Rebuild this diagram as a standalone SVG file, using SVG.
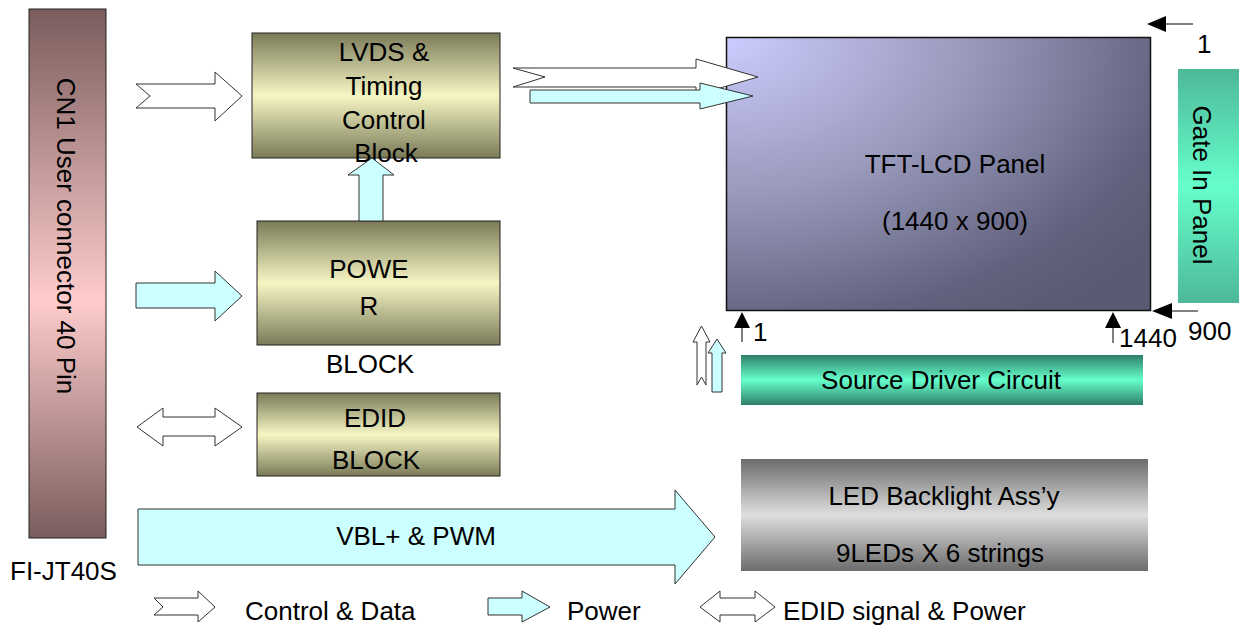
<svg xmlns="http://www.w3.org/2000/svg" width="1241" height="625" viewBox="0 0 1241 625">
<defs>
<linearGradient id="gCN1" x1="0" y1="0" x2="0" y2="1">
<stop offset="0" stop-color="#7a5c5c"/><stop offset="0.55" stop-color="#ffcccc"/><stop offset="1" stop-color="#7a5c5c"/>
</linearGradient>
<linearGradient id="gOlive" x1="0" y1="0" x2="0" y2="1">
<stop offset="0" stop-color="#7a7a58"/><stop offset="0.5" stop-color="#f6f6c4"/><stop offset="1" stop-color="#7a7a58"/>
</linearGradient>
<radialGradient id="gTFT" cx="0" cy="0" r="1.25" fx="0" fy="0">
<stop offset="0" stop-color="#ccccff"/><stop offset="0.45" stop-color="#9a9abd"/><stop offset="0.85" stop-color="#62627e"/><stop offset="1" stop-color="#5a5a74"/>
</radialGradient>
<linearGradient id="gGate" x1="0" y1="0" x2="0" y2="1">
<stop offset="0" stop-color="#4db899"/><stop offset="0.5" stop-color="#66ffcc"/><stop offset="1" stop-color="#4db899"/>
</linearGradient>
<linearGradient id="gSrc" x1="0" y1="0" x2="0" y2="1">
<stop offset="0" stop-color="#2f7f68"/><stop offset="0.5" stop-color="#66ffcc"/><stop offset="1" stop-color="#2f7f68"/>
</linearGradient>
<linearGradient id="gLED" x1="0" y1="0" x2="0" y2="1">
<stop offset="0" stop-color="#6c6c6c"/><stop offset="0.5" stop-color="#dedede"/><stop offset="1" stop-color="#6c6c6c"/>
</linearGradient>
</defs>
<style>
text{font-family:"Liberation Sans",Arial,sans-serif;font-size:26px;fill:#000}
.c{text-anchor:middle}
.box{stroke:#222;stroke-width:1}
.wa{fill:#fff;stroke:#333;stroke-width:1}
.ca{fill:#ccffff;stroke:#333;stroke-width:1}
.pin{stroke:#000;stroke-width:1}
.pinh{fill:#000}
</style>
<rect width="1241" height="625" fill="#fff"/>

<g id="cn1">
<rect class="box" x="29" y="9" width="77" height="529" fill="url(#gCN1)"/>
<text class="c" transform="translate(57,236) rotate(90)">CN1 User connector 40 Pin</text>
<text x="10" y="580">FI-JT40S</text>
</g>

<g id="lvds">
<rect class="box" x="252" y="33" width="248" height="125" fill="url(#gOlive)"/>
<text class="c" x="384" y="61">LVDS &amp;</text>
<text class="c" x="384" y="95">Timing</text>
<text class="c" x="384" y="129">Control</text>
<text class="c" x="386" y="162">Block</text>
</g>

<g id="power">
<rect class="box" x="257" y="221" width="243" height="124" fill="url(#gOlive)"/>
<text class="c" x="369" y="278">POWE</text>
<text class="c" x="369" y="315">R</text>
<text class="c" x="370" y="373">BLOCK</text>
</g>

<g id="edid">
<rect class="box" x="257" y="393" width="243" height="83" fill="url(#gOlive)"/>
<text class="c" x="375" y="427">EDID</text>
<text class="c" x="376" y="469">BLOCK</text>
</g>

<g id="tft">
<rect x="726.5" y="37.5" width="424" height="273" fill="url(#gTFT)" stroke="#111" stroke-width="1.5"/>
<text class="c" x="955" y="173">TFT-LCD Panel</text>
<text class="c" x="955" y="230">(1440 x 900)</text>
</g>

<g id="gate">
<rect x="1178" y="69" width="61" height="234" fill="url(#gGate)"/>
<text class="c" transform="translate(1193,185) rotate(90)">Gate In Panel</text>
</g>

<g id="source">
<rect x="741" y="355" width="402" height="50" fill="url(#gSrc)"/>
<text class="c" x="941" y="389">Source Driver Circuit</text>
</g>

<g id="led">
<rect x="741" y="459" width="407" height="112" fill="url(#gLED)"/>
<text class="c" x="944" y="505">LED Backlight Ass’y</text>
<text class="c" x="940" y="562">9LEDs X 6 strings</text>
</g>

<g id="pins">
<line class="pin" x1="1193" y1="24" x2="1164" y2="24"/>
<polygon class="pinh" points="1147,24 1166,16 1166,32"/>
<text x="1197" y="53">1</text>
<line class="pin" x1="1198" y1="311" x2="1170" y2="311"/>
<polygon class="pinh" points="1152,311 1172,303 1172,319"/>
<text x="1188" y="340">900</text>
<line class="pin" x1="742" y1="342" x2="742" y2="326"/>
<polygon class="pinh" points="742,312 734,328 750,328"/>
<text x="753" y="341">1</text>
<line class="pin" x1="1113" y1="343" x2="1113" y2="326"/>
<polygon class="pinh" points="1113,312 1105,328 1121,328"/>
<text x="1119" y="347">1440</text>
</g>

<g id="connectors">
<polygon class="wa" points="136,84 215,84 215,72 242,96 215,121 215,108 136,108 150,96"/>
<polygon class="ca" points="136,283 215,283 215,271 242,296 215,321 215,308 136,308"/>
<polygon class="wa" points="137,427 163,408 163,417 215,417 215,408 242,427 215,446 215,436 163,436 163,446"/>
<polygon class="ca" points="359,221 359,175 348,175 372,158 394,175 383,175 383,221"/>
<polygon class="wa" points="513,68 696,68 696,59 758,77 696,95 696,87 513,87 545,77"/>
<polygon class="ca" points="530,90 700,90 700,83 753,96 700,109 700,103 530,103"/>
<polygon class="wa" points="697,385 697,342 693,342 701.5,326 710,342 706,342 706,385 701.5,377"/>
<polygon class="ca" points="712,392 712,353 708,353 717,339 726,353 722,353 722,392"/>
<polygon class="ca" points="138,509 675,509 675,490 715,537 675,584 675,565 138,565"/>
<text class="c" x="416" y="545">VBL+ &amp; PWM</text>
</g>

<g id="legend">
<polygon class="wa" points="154,598 198,598 198,591 215,607 198,622 198,615 154,615 163,607"/>
<text x="245" y="620">Control &amp; Data</text>
<polygon class="ca" points="488,598 522,598 522,591 550,607 522,622 522,615 488,615"/>
<text x="567" y="620">Power</text>
<polygon class="wa" points="700,607 720,591 720,598 755,598 755,591 775,607 755,622 755,615 720,615 720,622"/>
<text x="783" y="620">EDID signal &amp; Power</text>
</g>
</svg>
